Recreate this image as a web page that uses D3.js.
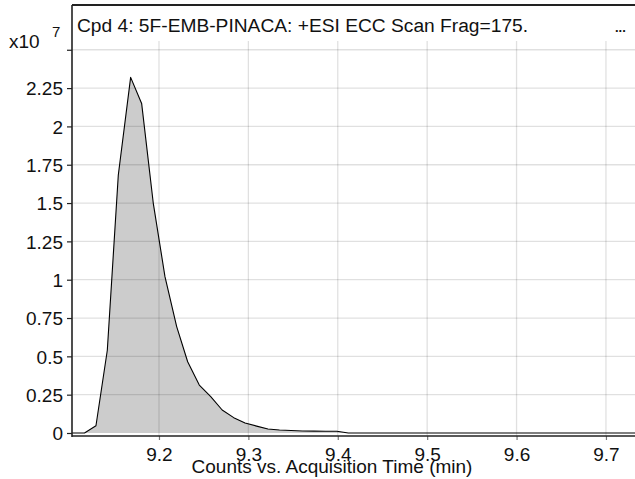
<!DOCTYPE html>
<html>
<head>
<meta charset="utf-8">
<script src="https://cdn.jsdelivr.net/npm/d3@7/dist/d3.min.js"></script>
<style>
  html, body { margin: 0; padding: 0; background: #fff; }
  svg { display: block; font-family: "Liberation Sans", Arial, sans-serif; }
</style>
</head>
<body>
<svg id="chart" width="635" height="479"></svg>
<script>
// Acquisition time (min)
const times = [9.1027, 9.1167, 9.1295, 9.1422, 9.1545, 9.1683, 9.1806, 9.1936, 9.2067, 9.2198,
               9.2321, 9.2451, 9.2579, 9.2707, 9.2836, 9.2963, 9.3092, 9.3219, 9.3348, 9.3477,
               9.3605, 9.3733, 9.3862, 9.3990, 9.4118, 9.7325];
// Counts (x10^7)
const counts = [0, 0, 0.047, 0.54, 1.683, 2.32, 2.15, 1.50, 1.02, 0.694,
                0.465, 0.313, 0.237, 0.15, 0.10, 0.065, 0.045, 0.026, 0.02, 0.016,
                0.013, 0.012, 0.011, 0.011, 0, 0];
const xTicks = [9.2, 9.3, 9.4, 9.5, 9.6, 9.7];
const xTickLabels = ["9.2", "9.3", "9.4", "9.5", "9.6", "9.7"];
const yTicks = [0, 0.25, 0.5, 0.75, 1, 1.25, 1.5, 1.75, 2, 2.25, 2.5];
const yTickLabels = ["0", "0.25", "0.5", "0.75", "1", "1.25", "1.5", "1.75", "2", "2.25", ""];
const titleText = "Cpd 4: 5F-EMB-PINACA: +ESI ECC Scan Frag=175.";
const xTitle = "Counts vs. Acquisition Time (min)";

const svg = d3.select("#chart");
const L = 72, R = 635, T = 5, B = 436;
const x = d3.scaleLinear().domain([9.1027, 9.7325]).range([L, R]);
const y = d3.scaleLinear().domain([-0.0196, 2.792]).range([B, T]);
const data = times.map((t, i) => ({ t, v: counts[i] }));

svg.append("rect").attr("width", 635).attr("height", 479).attr("fill", "#fff");

// filled area
svg.append("path").datum(data)
  .attr("d", d3.area().x(d => x(d.t)).y0(y(0)).y1(d => y(d.v)))
  .attr("fill", "#cccccc");

// grid lines
const grid = svg.append("g").attr("stroke", "rgba(0,0,0,0.12)").attr("stroke-width", 1.3);
grid.selectAll("line.v").data(xTicks).join("line")
  .attr("x1", d => x(d)).attr("x2", d => x(d)).attr("y1", T).attr("y2", B);
grid.selectAll("line.h").data(yTicks.filter(d => d > 0)).join("line")
  .attr("x1", L).attr("x2", R).attr("y1", d => y(d)).attr("y2", d => y(d));

// line
svg.append("path").datum(data)
  .attr("d", d3.line().x(d => x(d.t)).y(d => y(d.v)))
  .attr("fill", "none").attr("stroke", "#000").attr("stroke-width", 1.1)
  .attr("stroke-linejoin", "round");

// title box
svg.append("rect").attr("x", L).attr("y", T).attr("width", R - L).attr("height", 36).attr("fill", "#fff");
svg.append("text").attr("x", 77).attr("y", 32).attr("font-size", 19.2).attr("fill", "#111").text(titleText);
svg.append("text").attr("x", 615).attr("y", 32).attr("font-size", 13).attr("font-weight", "bold").attr("fill", "#111").text("...");

// x axis
const xAxis = d3.axisBottom(x).tickValues(xTicks).tickFormat((d, i) => xTickLabels[i]).tickSizeOuter(0).tickSize(4).tickPadding(7);
const gx = svg.append("g").attr("transform", `translate(0,${B})`).call(xAxis);
gx.select(".domain").remove();
gx.selectAll(".tick line").attr("stroke", "#777").attr("stroke-width", 1.2);
gx.selectAll(".tick text").attr("font-size", 19).attr("fill", "#111")
  .attr("font-family", "Liberation Sans, Arial, sans-serif").attr("dy", "0.71em").attr("y", 12);
svg.append("line").attr("x1", L).attr("x2", R).attr("y1", B).attr("y2", B)
  .attr("stroke", "#222").attr("stroke-width", 1.6);

// y axis
const yAxis = d3.axisLeft(y).tickValues(yTicks).tickFormat((d, i) => yTickLabels[i]).tickSizeOuter(0).tickSize(5).tickPadding(5);
const gy = svg.append("g").attr("transform", `translate(${L},0)`).call(yAxis);
gy.select(".domain").remove();
gy.selectAll(".tick line").attr("stroke", "#222").attr("stroke-width", 1.2);
gy.selectAll(".tick text").attr("font-size", 19).attr("fill", "#111")
  .attr("font-family", "Liberation Sans, Arial, sans-serif").attr("x", -9).attr("dy", "0.36em");
svg.append("line").attr("x1", L).attr("x2", L).attr("y1", T).attr("y2", B + 1)
  .attr("stroke", "#222").attr("stroke-width", 1.6);
// top frame
svg.append("line").attr("x1", L).attr("x2", R).attr("y1", T).attr("y2", T)
  .attr("stroke", "#222").attr("stroke-width", 1.8);

// exponent
svg.append("text").attr("x", 9).attr("y", 48).attr("font-size", 19).attr("fill", "#111").text("x10");
svg.append("text").attr("x", 52).attr("y", 37).attr("font-size", 15).attr("fill", "#111").text("7");

// x title
svg.append("text").attr("x", 332).attr("y", 473).attr("text-anchor", "middle")
  .attr("font-size", 19).attr("fill", "#111").text(xTitle);
</script>
</body>
</html>
